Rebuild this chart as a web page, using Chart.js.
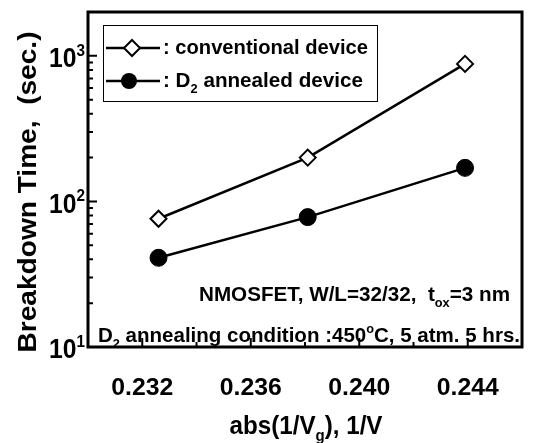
<!DOCTYPE html>
<html>
<head>
<meta charset="utf-8">
<script src="https://cdn.jsdelivr.net/npm/chart.js@4/dist/chart.umd.min.js"></script>
<style>
  html, body { margin: 0; padding: 0; background: #fff; }
  #wrap { width: 542px; height: 443px; }
</style>
</head>
<body>
<div id="wrap"><canvas id="chart" width="542" height="443"></canvas></div>
<script>
// values
const xVals = [0.2326, 0.2381, 0.2439];
const conventional = [76, 200, 880];
const annealed = [41, 78, 170];
const xTicks = [0.232, 0.236, 0.240, 0.244];
const xMinor = [0.234, 0.238, 0.242];
const yTicks = [10, 100, 1000];

const FONT = '"Liberation Sans", Arial, sans-serif';

// draw text made of parts, some of them sub/superscript
function rich(ctx, parts, x, y, size, align, width) {
    let total = 0;
    const widths = parts.map(p => {
        const fs = p.s ? size * 0.62 : size;
        ctx.font = 'bold ' + fs + 'px ' + FONT;
        const w = ctx.measureText(p.t).width;
        total += w;
        return w;
    });
    const sx = width ? width / total : 1;
    ctx.save();
    ctx.translate(x, y);
    ctx.scale(sx, 1);
    let cx = align === 'center' ? -total / 2 : (align === 'right' ? -total : 0);
    ctx.textBaseline = 'middle';
    ctx.textAlign = 'left';
    ctx.fillStyle = '#000';
    parts.forEach((p, i) => {
        const fs = p.s ? size * 0.62 : size;
        ctx.font = 'bold ' + fs + 'px ' + FONT;
        let dy = 0;
        if (p.s === 'sub') dy = size * 0.38;
        if (p.s === 'sup') dy = -size * 0.32;
        ctx.fillText(p.t, cx, dy);
        cx += widths[i];
    });
    ctx.restore();
}

const decor = {
    id: 'decor',
    afterDraw(chart) {
        const ctx = chart.ctx;
        const a = chart.chartArea;
        const xs = chart.scales.x, ys = chart.scales.y;
        ctx.save();
        ctx.strokeStyle = '#000';

        // y ticks (inward)
        ctx.lineWidth = 2;
        ctx.beginPath();
        yTicks.forEach(d => {
            for (let m = 1; m <= 9; m++) {
                const v = d * m;
                if (v > ys.max) break;
                const py = ys.getPixelForValue(v);
                const len = m === 1 ? 9 : 5;
                ctx.moveTo(a.left, py);
                ctx.lineTo(a.left + len, py);
            }
        });
        // x ticks
        xTicks.forEach(v => {
            const px = xs.getPixelForValue(v);
            ctx.moveTo(px, a.bottom);
            ctx.lineTo(px, a.bottom - 9);
        });
        xMinor.forEach(v => {
            const px = xs.getPixelForValue(v);
            ctx.moveTo(px, a.bottom);
            ctx.lineTo(px, a.bottom - 5);
        });
        ctx.stroke();

        // frame
        ctx.lineWidth = 3;
        ctx.strokeRect(a.left, a.top, a.right - a.left, a.bottom - a.top);

        // tick labels
        xTicks.forEach(v => {
            rich(ctx, [{ t: v.toFixed(3) }], xs.getPixelForValue(v), 388, 24, 'center', 62);
        });
        yTicks.forEach(v => {
            const e = String(Math.round(Math.log10(v)));
            rich(ctx, [{ t: '10' }, { t: e, s: 'sup' }], 85, ys.getPixelForValue(v) + 4, 27, 'right', 36);
        });

        // axis titles
        rich(ctx, [{ t: 'abs(1/V' }, { t: 'g', s: 'sub' }, { t: '), 1/V' }], 306, 427, 26, 'center', 153);
        ctx.save();
        ctx.translate(29, 192);
        ctx.rotate(-Math.PI / 2);
        rich(ctx, [{ t: 'Breakdown Time,  (sec.)' }], 0, 0, 26, 'center', 321);
        ctx.restore();

        // legend
        ctx.lineWidth = 1;
        ctx.strokeRect(103.5, 25.5, 274, 76);
        const rows = [
            { y: 48, mx: 132, parts: [{ t: ': conventional device' }], w: 205, open: true },
            { y: 81, mx: 129, parts: [{ t: ': D' }, { t: '2', s: 'sub' }, { t: ' annealed device' }], w: 200, open: false }
        ];
        rows.forEach(r => {
            ctx.lineWidth = 2.5;
            ctx.beginPath();
            ctx.moveTo(106, r.y);
            ctx.lineTo(160, r.y);
            ctx.stroke();
            ctx.beginPath();
            if (r.open) {
                ctx.moveTo(r.mx, r.y - 8);
                ctx.lineTo(r.mx + 8, r.y);
                ctx.lineTo(r.mx, r.y + 8);
                ctx.lineTo(r.mx - 8, r.y);
                ctx.closePath();
                ctx.fillStyle = '#fff';
                ctx.fill();
                ctx.lineWidth = 2;
                ctx.stroke();
            } else {
                ctx.arc(r.mx, r.y, 8, 0, Math.PI * 2);
                ctx.fillStyle = '#000';
                ctx.fill();
            }
            rich(ctx, r.parts, 163, r.y, 21, 'left', r.w);
        });

        // notes
        rich(ctx, [{ t: 'NMOSFET, W/L=32/32,  t' }, { t: 'ox', s: 'sub' }, { t: '=3 nm' }], 199, 295, 21, 'left', 311);
        rich(ctx, [{ t: 'D' }, { t: '2', s: 'sub' }, { t: ' annealing condition :450' }, { t: 'o', s: 'sup' }, { t: 'C, 5 atm. 5 hrs.' }], 98, 336, 21, 'left', 422);

        ctx.restore();
    }
};

const ctx = document.getElementById('chart').getContext('2d');
new Chart(ctx, {
    type: 'line',
    data: {
        datasets: [
            {
                label: 'conventional device',
                data: xVals.map((x, i) => ({ x: x, y: conventional[i] })),
                borderColor: '#000',
                borderWidth: 2.5,
                pointStyle: 'rectRot',
                pointRadius: 8,
                pointBackgroundColor: '#fff',
                pointBorderColor: '#000',
                pointBorderWidth: 2
            },
            {
                label: 'D2 annealed device',
                data: xVals.map((x, i) => ({ x: x, y: annealed[i] })),
                borderColor: '#000',
                borderWidth: 2.5,
                pointStyle: 'circle',
                pointRadius: 8.5,
                pointBackgroundColor: '#000',
                pointBorderColor: '#000',
                pointBorderWidth: 1
            }
        ]
    },
    options: {
        responsive: false,
        animation: false,
        layout: { padding: { left: 88, top: 12, right: 20, bottom: 96 } },
        plugins: { legend: { display: false }, tooltip: { enabled: false } },
        scales: {
            x: { type: 'linear', min: 0.230, max: 0.246, display: false },
            y: { type: 'logarithmic', min: 10, max: 2000, display: false }
        }
    },
    plugins: [decor]
});
</script>
</body>
</html>
